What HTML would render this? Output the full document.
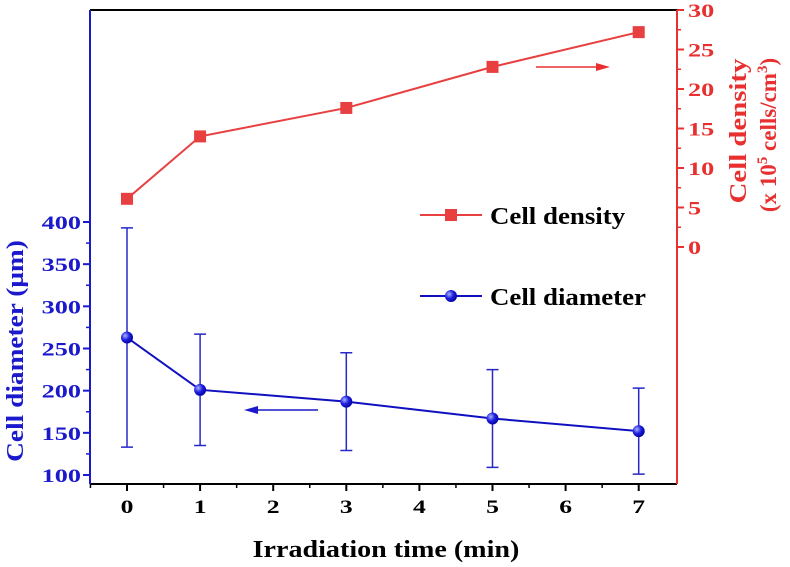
<!DOCTYPE html>
<html><head><meta charset="utf-8"><style>
body{margin:0;background:#fff}
svg{display:block;font-family:"Liberation Serif",serif;font-weight:bold}
</style></head><body>
<svg id="c" width="790" height="567" viewBox="0 0 790 567">
<defs><radialGradient id="bg" cx="0.35" cy="0.35" r="0.7"><stop offset="0" stop-color="#aab4ff"/><stop offset="0.5" stop-color="#2020e0"/><stop offset="1" stop-color="#0000a0"/></radialGradient></defs>
<g id="g"></g>
</svg>
<script>
const times=[0,1,3,5,7];
const density=[6.1,14.0,17.6,22.8,27.2];
const diameter=[263,201,187,167,152];
const diamErr=[130,66,58,58,51];
const xTicks=[0,1,2,3,4,5,6,7];
const leftTicks=[100,150,200,250,300,350,400];
const rightTicks=[0,5,10,15,20,25,30];

const L=90,R=677,T=10,B=484;
const X=v=>127+v*73.1;
const YL=v=>475-(v-100)*(253/300);
const YR=v=>247-v*(237/30);
const g=document.getElementById('g');
const NS='http://www.w3.org/2000/svg';
function el(t,a,txt){const e=document.createElementNS(NS,t);for(const k in a)e.setAttribute(k,a[k]);if(txt!==undefined)e.textContent=txt;g.appendChild(e);return e;}
function stretch(e,f){const w=e.getComputedTextLength();e.setAttribute('textLength',w*f);e.setAttribute('lengthAdjust','spacingAndGlyphs');}

// frame
let e=el('line',{x1:L,y1:T,x2:R,y2:T,stroke:'#000','stroke-width':2});

e=el('line',{x1:L,y1:B,x2:R,y2:B,stroke:'#000','stroke-width':2});

e=el('line',{x1:L,y1:T,x2:L,y2:B,stroke:'#1a1acc','stroke-width':2});

e=el('line',{x1:R,y1:T,x2:R,y2:B,stroke:'#e83030','stroke-width':2});


// x ticks
xTicks.forEach(v=>{el('line',{x1:X(v),y1:B,x2:X(v),y2:B+7,stroke:'#000','stroke-width':2});
 if(v<7) el('line',{x1:X(v+0.5),y1:B,x2:X(v+0.5),y2:B+4,stroke:'#000','stroke-width':1.5});
 e=el('text',{x:X(v),y:B+29,'text-anchor':'middle','font-size':19,fill:'#000'},v);stretch(e,1.35);
 });
el('line',{x1:X(-0.5),y1:B,x2:X(-0.5),y2:B+4,stroke:'#000','stroke-width':1.5});
e=el('text',{x:386,y:557,'text-anchor':'middle','font-size':24,fill:'#000'},'Irradiation time (min)');stretch(e,1.17);


// left ticks
leftTicks.forEach(v=>{el('line',{x1:L-7,y1:YL(v),x2:L,y2:YL(v),stroke:'#1a1acc','stroke-width':2});
 if(v<400) el('line',{x1:L-4,y1:YL(v+25),x2:L,y2:YL(v+25),stroke:'#1a1acc','stroke-width':1.5});
 e=el('text',{x:L-9,y:YL(v)+7,'text-anchor':'end','font-size':19,fill:'#1a1acc'},v);stretch(e,1.38);
 });
e=el('text',{transform:'translate(23,351) rotate(-90)','text-anchor':'middle','font-size':24,fill:'#1a1acc'},'Cell diameter (μm)');stretch(e,1.14);


// right ticks
rightTicks.forEach(v=>{el('line',{x1:R,y1:YR(v),x2:R+7,y2:YR(v),stroke:'#e83030','stroke-width':2});
 if(v<30) el('line',{x1:R,y1:YR(v+2.5),x2:R+4,y2:YR(v+2.5),stroke:'#e83030','stroke-width':1.5});
 e=el('text',{x:R+11,y:YR(v)+7,'font-size':19,fill:'#e83030'},v);stretch(e,1.38);
 });
e=el('text',{transform:'translate(746,131) rotate(-90)','text-anchor':'middle','font-size':24,fill:'#e83030'},'Cell density');stretch(e,1.2);

e=el('text',{transform:'translate(776,135) rotate(-90)','text-anchor':'middle','font-size':23,fill:'#e83030'});
e.innerHTML='(x 10<tspan font-size="15" dy="-9">5</tspan><tspan dy="9"> cells/cm</tspan><tspan font-size="15" dy="-9">3</tspan><tspan dy="9">)</tspan>';


// density series
e=el('polyline',{points:times.map((t,i)=>X(t)+','+YR(density[i])).join(' '),fill:'none',stroke:'#e84040','stroke-width':2});

times.forEach((t,i)=>{e=el('rect',{x:X(t)-6,y:YR(density[i])-6,width:12,height:12,fill:'#e84040'});
 });

// diameter series
times.forEach((t,i)=>{const x=X(t),y1=YL(diameter[i]+diamErr[i]),y2=YL(diameter[i]-diamErr[i]);
 e=el('path',{d:`M${x},${y1}V${y2}M${x-6},${y1}H${x+6}M${x-6},${y2}H${x+6}`,stroke:'#2828c8','stroke-width':1.5,fill:'none'});
 });
e=el('polyline',{points:times.map((t,i)=>X(t)+','+YL(diameter[i])).join(' '),fill:'none',stroke:'#1010c0','stroke-width':2});

times.forEach((t,i)=>{e=el('circle',{cx:X(t),cy:YL(diameter[i]),r:6,fill:'url(#bg)'});
 });

// arrows
e=el('path',{d:'M536,67H600',stroke:'#e83030','stroke-width':1.5});

el('path',{d:'M610,67L596,63L596,71Z',fill:'#e83030'});
e=el('path',{d:'M255,410H318',stroke:'#1a1acc','stroke-width':1.5});

el('path',{d:'M244,410L258,406L258,414Z',fill:'#1a1acc'});

// legend
el('line',{x1:420,y1:215,x2:482,y2:215,stroke:'#e84040','stroke-width':2});
e=el('rect',{x:445,y:209,width:12,height:12,fill:'#e84040'});

e=el('text',{x:490,y:224,'font-size':24,fill:'#000'},'Cell density');stretch(e,1.12);

el('line',{x1:420,y1:296,x2:482,y2:296,stroke:'#1010c0','stroke-width':2});
e=el('circle',{cx:451,cy:296,r:6,fill:'url(#bg)'});

e=el('text',{x:490,y:305,'font-size':24,fill:'#000'},'Cell diameter');stretch(e,1.12);

</script>
</body></html>
